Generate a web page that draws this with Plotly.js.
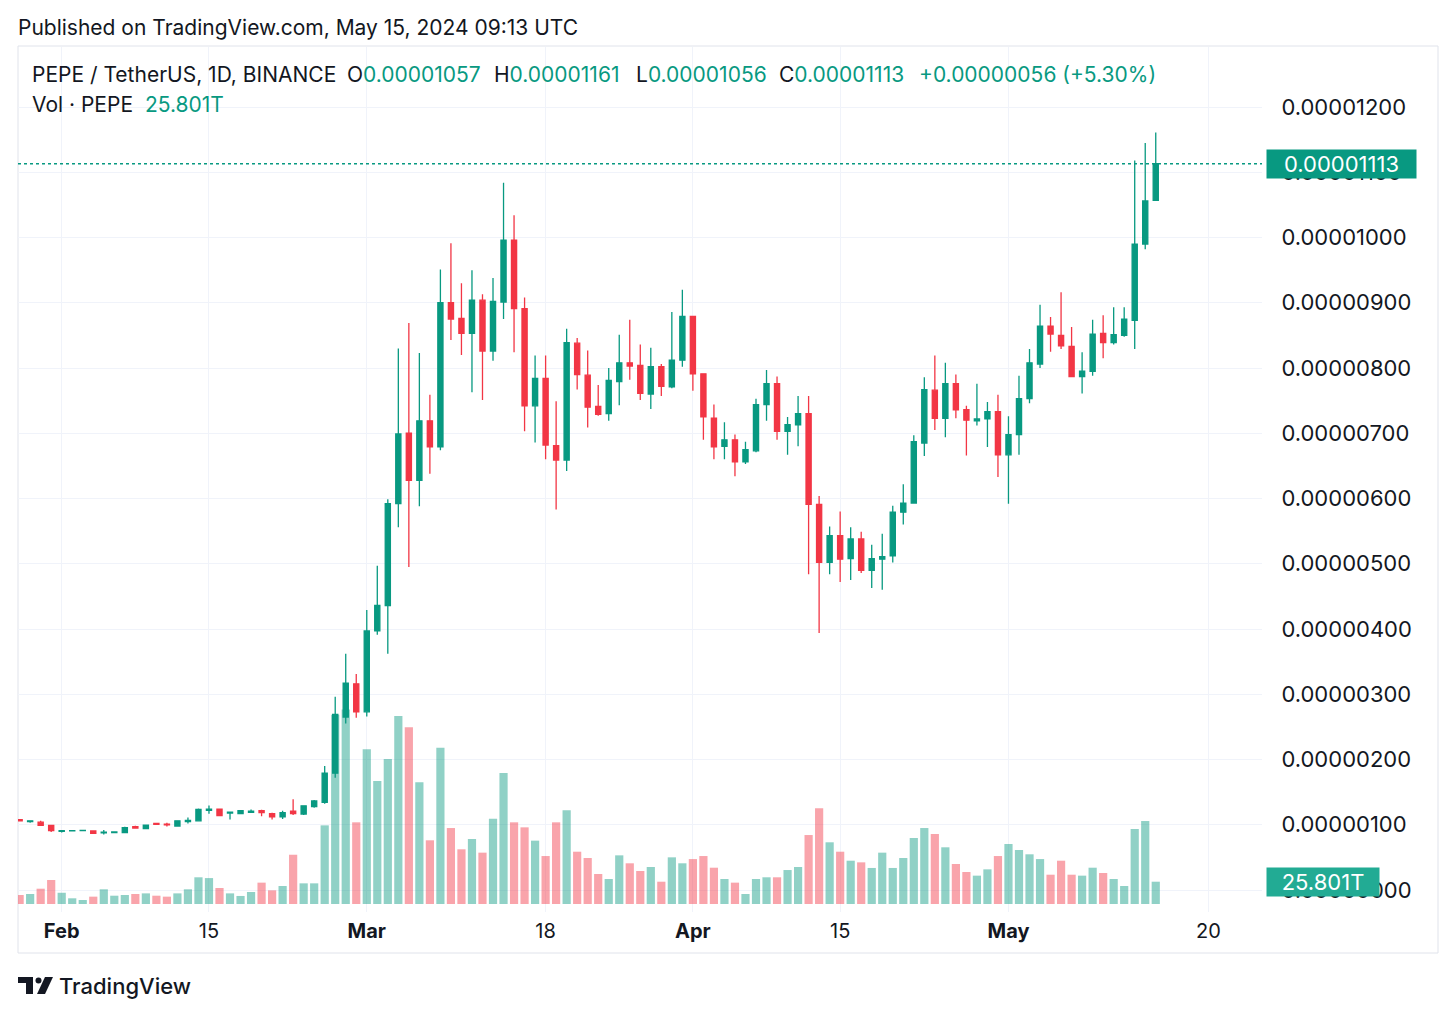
<!DOCTYPE html>
<html>
<head>
<meta charset="utf-8">
<script src="https://cdn.plot.ly/plotly-3.0.1.min.js"></script>
<style>
  html, body { margin: 0; padding: 0; background: #ffffff; }
  #chart { width: 1456px; height: 1016px; }
</style>
</head>
<body>
<div id="chart"></div>
<script>
// ---- data (prices in units of 1e-8 USDT, volume in trillions) ----
const FIRST_DAY = '2024-01-28';
const PRICE_UNIT = 1e-8;
const VOL_UNIT = 1e12;

const openP = [108,105,104,99,90,90.5,91,90.5,87.5,88,88,97,94,102,101,98,105,106,122,124,118,117,119,121.5,117,112,121,116.5,128,134.5,
  179,265,316,273,397,436,592,700,628,719,679,900,876,853,904,826,901,996,891,742,784,681,659,838,789,741,730,779,808,804,760,802,771,812,
  879,791,723,680,690,656,673,744,776,703,713,730,591,502,543,508,538,490,507,512,579,593,685,766,723,776,736,719,722,733,
  667,698,753,806,864,850,833,787,795,853,839,850,873,990,1057];
const highP = [109,107,106,100,91.5,91.5,92.5,91,92,90,97,98.5,100.5,103,103,107,111,125,129.5,125,120,122.5,123.5,123,118.5,121.5,139,130,138,190,
  296,362,331,429,497,599,830,869,823,759,951,991,930,950,913,938,1084,1034,908,819,819,749,860,846,827,774,800,851,874,836,831,806,886,920,
  880,792,744,717,698,687,753,797,787,725,757,757,604,557,580,556,549,529,546,589,622,697,786,819,808,790,742,776,748,759,
  726,788,829,897,878,916,863,824,874,881,893,893,1118,1145,1161];
const lowP = [105,103,98,89,88,90,90.5,86.5,85,87,87,94,93,99.5,97.5,97,102,105,117,113,108,116,118,113,108,109,115,115,126,132,
  172,255,264,266,391,362,556,495,588,638,674,843,820,763,751,811,875,824,703,686,660,583,642,767,709,727,719,743,782,751,737,757,769,802,
  765,690,660,660,634,653,671,719,690,667,680,484,394,484,472,475,486,463,460,502,560,592,665,705,694,723,666,712,679,633,
  592,667,746,800,825,829,786,761,788,815,836,848,829,982,1056];
const closeP = [106,106,99,91,91,91,91.5,87,88.5,89,95.5,95,99.5,100.5,100,106,106.5,123.5,124,114,119.5,121.5,121,118.5,112,118.5,117,129,136.5,179,
  269,317,273,397,436,592,699,628,719,679,900,875,853,904,826,902,996,891,742,784,682,659,839,790,740,729,781,808,803,761,802,772,812,879,
  791,725,679,690,656,675,744,776,703,713,730,591,502,543,507,538,490,508,511,579,593,687,767,723,776,736,720,722,733,667,
  698,753,808,864,852,834,787,795,852,839,851,875,990,1056,1113];
const volumeT = [10.4,11.6,17.7,27.8,13.0,6.6,4.6,8.5,17.0,9.6,10.4,11.6,12.3,9.6,8.5,12.3,17.0,30.9,30.0,18.5,12.3,9.3,13.9,24.7,15.8,20.8,57.0,23.9,23.9,91,
  219,225,94.5,179,142.3,167.8,217.5,204.4,141,73.7,180.8,87.9,63.3,75.2,59.4,98.7,151.6,94.5,88.7,73.3,55.5,94.5,108.6,60.5,53.2,34.7,28.9,56.3,47.1,38.2,42.8,25.8,54.0,47.1,
  52.0,55.5,42.0,28.9,24.7,11.6,28.9,30.9,30.9,39.3,42.8,79.8,110.7,71.4,60.5,50.1,48.2,41.7,59.4,41.7,53.2,76.4,87.9,81.0,65.6,46.3,37.0,32.8,40.1,55.5,
  69.4,62.5,57.5,52.0,33.9,50.1,33.9,32.8,42.0,35.9,28.9,20.8,86.8,96.0,25.801];

const priceTicks = [0,100,200,300,400,500,600,700,800,900,1000,1100,1200];
const timeTickDates = ['2024-02-01','2024-02-15','2024-03-01','2024-03-18','2024-04-01','2024-04-15','2024-05-01','2024-05-20'];
const timeTickText = ['<b>Feb</b>','15','<b>Mar</b>','18','<b>Apr</b>','15','<b>May</b>','20'];

const headerText = 'Published on TradingView.com, May 15, 2024 09:13 UTC';
const symbolText = 'PEPE / TetherUS, 1D, BINANCE';
const ohlcLabels = ['O','H','L','C'];
const ohlcValues = ['0.00001057','0.00001161','0.00001056','0.00001113'];
const changeText = '+0.00000056 (+5.30%)';
const volTitle = 'Vol · PEPE';
const volValueText = '25.801T';
const lastPriceText = '0.00001113';

// ---- build ----
const dates = [];
{
  const d0 = new Date(FIRST_DAY + 'T00:00:00Z');
  for (let i = 0; i < openP.length; i++) {
    const d = new Date(d0.getTime() + i * 86400000);
    dates.push(d.toISOString().slice(0, 10));
  }
}
const UP = '#089981', DOWN = '#F23645';
const UP_VOL = 'rgba(8,153,129,0.45)', DOWN_VOL = 'rgba(242,54,69,0.45)';
const volColors = closeP.map((c, i) => c >= openP[i] ? UP_VOL : DOWN_VOL);

const scale = (a, u) => a.map(v => v * u);

const volTrace = {
  type: 'bar', x: dates, y: scale(volumeT, VOL_UNIT),
  marker: { color: volColors, line: { width: 0 } },
  xaxis: 'x', yaxis: 'y', hoverinfo: 'skip'
};
const candleTrace = {
  type: 'candlestick', x: dates,
  open: scale(openP, PRICE_UNIT), high: scale(highP, PRICE_UNIT),
  low: scale(lowP, PRICE_UNIT), close: scale(closeP, PRICE_UNIT),
  increasing: { line: { color: UP, width: 1.3 }, fillcolor: UP },
  decreasing: { line: { color: DOWN, width: 1.3 }, fillcolor: DOWN },
  whiskerwidth: 0,
  xaxis: 'x', yaxis: 'y2', hoverinfo: 'skip'
};

// plot box in pixels: x 18..1262, y 47..912
const PL = 18, PR = 1262, PT = 47, PB = 912;
const px = v => (v - PL) / (PR - PL);
const py = v => (PB - v) / (PB - PT);

const TEXT = '#131722';
const FONT = 'Inter, Roboto, "Noto Sans", sans-serif';

function ann(x, y, text, opts) {
  return Object.assign({
    xref: 'paper', yref: 'paper', x: px(x), y: py(y), text: text,
    showarrow: false, xanchor: 'left', yanchor: 'middle',
    font: { family: FONT, size: 21, color: TEXT }
  }, opts || {});
}
const teal = t => '<span style="color:' + UP + '">' + t + '</span>';

const annotations = [
  ann(16, 27, headerText),
  ann(30, 75, symbolText),
  ann(345, 75, ohlcLabels[0] + teal(ohlcValues[0])),
  ann(492, 75, ohlcLabels[1] + teal(ohlcValues[1])),
  ann(634, 75, ohlcLabels[2] + teal(ohlcValues[2])),
  ann(777, 75, ohlcLabels[3] + teal(ohlcValues[3])),
  ann(917, 75, teal(changeText)),
  ann(30, 104, volTitle),
  ann(143, 104, teal(volValueText)),
  ann(57, 986, 'TradingView', { font: { family: FONT, size: 22, color: TEXT, weight: 500 } }),
  // last price label
  {
    xref: 'paper', yref: 'y2', x: px(1266), y: closeP[closeP.length - 1] * PRICE_UNIT,
    text: lastPriceText, showarrow: false, xanchor: 'left', yanchor: 'middle',
    bgcolor: UP, font: { family: FONT, size: 22, color: '#ffffff' },
    width: 143, height: 22, borderpad: 3, align: 'center'
  },
  // volume label
  {
    xref: 'paper', yref: 'y', x: px(1266), y: volumeT[volumeT.length - 1] * VOL_UNIT,
    text: volValueText, showarrow: false, xanchor: 'left', yanchor: 'middle',
    bgcolor: '#22ab94', font: { family: FONT, size: 22, color: '#ffffff' },
    width: 106, height: 22, borderpad: 3, align: 'center'
  }
];

const shapes = [
  // outer frame
  { type: 'rect', xref: 'paper', yref: 'paper', x0: px(18), x1: px(1438), y0: py(953), y1: py(46),
    line: { color: '#e0e3eb', width: 1 }, fillcolor: 'rgba(0,0,0,0)', layer: 'below' },
  // last price dotted line
  { type: 'line', xref: 'paper', yref: 'y2', x0: 0, x1: 1,
    y0: closeP[closeP.length - 1] * PRICE_UNIT, y1: closeP[closeP.length - 1] * PRICE_UNIT,
    line: { color: UP, width: 1.5, dash: 'dot' } },
  // TradingView logo (approximation)
  { type: 'path', xref: 'paper', yref: 'paper',
    path: 'M' + px(18) + ',' + py(977) + ' L' + px(33) + ',' + py(977) + ' L' + px(33) + ',' + py(994) +
          ' L' + px(26) + ',' + py(994) + ' L' + px(26) + ',' + py(983) + ' L' + px(18) + ',' + py(983) + ' Z',
    fillcolor: TEXT, line: { width: 0 } },
  { type: 'circle', xref: 'paper', yref: 'paper', x0: px(35.5), x1: px(41.5), y0: py(983.5), y1: py(977.5),
    fillcolor: TEXT, line: { width: 0 } },
  { type: 'path', xref: 'paper', yref: 'paper',
    path: 'M' + px(45) + ',' + py(977) + ' L' + px(53) + ',' + py(977) + ' L' + px(45) + ',' + py(994) +
          ' L' + px(37) + ',' + py(994) + ' Z',
    fillcolor: TEXT, line: { width: 0 } }
];

// axis ranges from pixel calibration
const priceAt = p => (890 - p) * (1200 / (890 - 107));     // units of 1e-8
const volAt = p => (904 - p) * (25.801 / (904 - 881.7));     // trillions

const layout = {
  width: 1456, height: 1016,
  paper_bgcolor: '#ffffff', plot_bgcolor: '#ffffff',
  margin: { l: PL, r: 1456 - PR, t: PT, b: 1016 - PB, pad: 0 },
  showlegend: false, hovermode: false, dragmode: false,
  font: { family: FONT, color: TEXT, size: 20 },
  bargap: 0.22,
  xaxis: {
    type: 'date', range: ['2024-01-27 20:18', '2024-05-25 02:24'],
    rangeslider: { visible: false },
    tickmode: 'array', tickvals: timeTickDates, ticktext: timeTickText,
    tickfont: { family: FONT, size: 20, color: TEXT },
    ticks: 'outside', ticklen: 1, tickcolor: 'rgba(0,0,0,0)',
    showgrid: true, gridcolor: '#f0f3fa', gridwidth: 1,
    zeroline: false, showline: false, fixedrange: true
  },
  yaxis: {
    range: [volAt(PB) * VOL_UNIT, volAt(PT) * VOL_UNIT],
    visible: false, showgrid: false, zeroline: false, fixedrange: true
  },
  yaxis2: {
    overlaying: 'y', side: 'right', anchor: 'x',
    range: [priceAt(PB) * PRICE_UNIT, priceAt(PT) * PRICE_UNIT],
    tickmode: 'array', tickvals: priceTicks.map(v => v * PRICE_UNIT),
    tickformat: '.8f',
    tickfont: { family: FONT, size: 22, color: TEXT },
    ticks: 'outside', ticklen: 14, tickcolor: 'rgba(0,0,0,0)',
    showgrid: true, gridcolor: '#f0f3fa', gridwidth: 1,
    zeroline: false, showline: false, fixedrange: true
  },
  annotations: annotations,
  shapes: shapes
};

Plotly.newPlot('chart', [volTrace, candleTrace], layout, { displayModeBar: false, staticPlot: true });
</script>
</body>
</html>
